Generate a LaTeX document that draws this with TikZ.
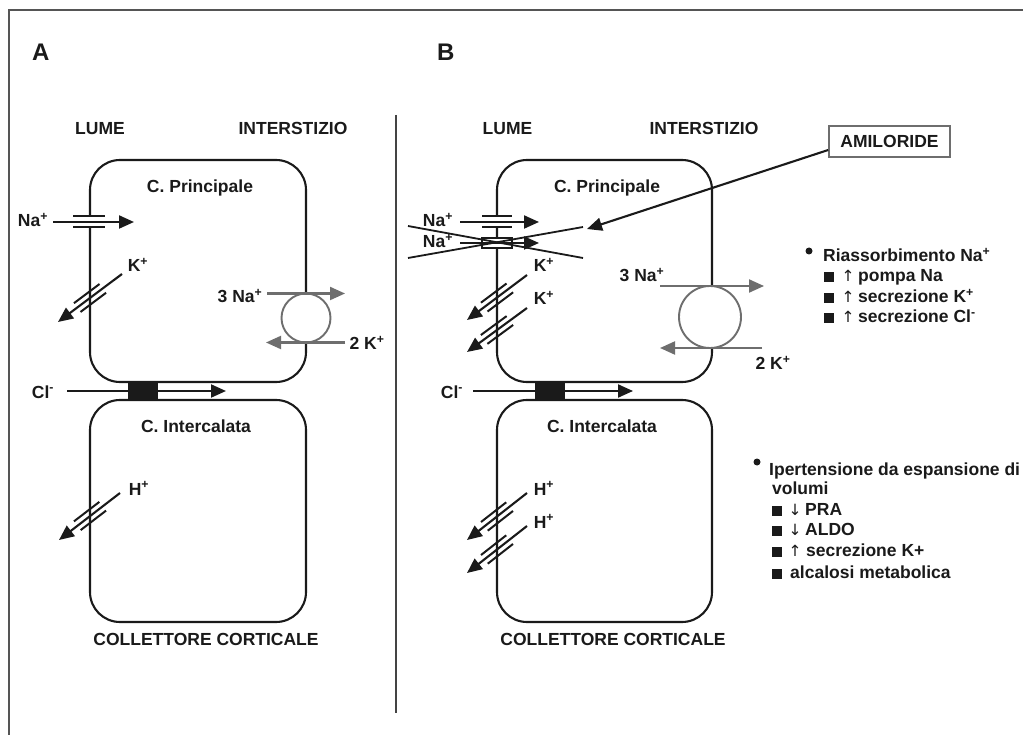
\documentclass[tikz,border=0pt]{standalone}
\usepackage{fontspec}
\setmainfont{Liberation Sans}
\newfontfamily\dv{DejaVu Sans}
\usetikzlibrary{arrows.meta}
\definecolor{ink}{HTML}{1A1A1A}
\definecolor{pumpgray}{HTML}{6E6E6E}
\definecolor{framegray}{HTML}{555555}
\tikzset{
  cell/.style={draw=ink, line width=2.1pt, rounded corners=30pt, inner sep=0pt},
  lbl/.style={font=\fontsize{17.5}{20}\selectfont\bfseries, text=ink, inner sep=0pt, anchor=base},
  lblw/.style={lbl, anchor=base west},
  big/.style={font=\fontsize{24}{28}\selectfont\bfseries, text=ink, inner sep=0pt, anchor=base west},
  arw/.style={font=\dv\fontsize{15.5}{15}\selectfont, text=ink, inner sep=0pt, anchor=base},
  ion/.style={draw=ink, line width=2.1pt, -{Triangle[length=15pt,width=13pt]}},
  pumparr/.style={draw=pumpgray, line width=2.1pt, -{Triangle[length=15pt,width=13pt]}},
  chanline/.style={draw=ink, line width=2pt},
  pumpc/.style={circle, draw=pumpgray, fill=white, line width=1.9pt, inner sep=0pt},
  sq/.style={fill=ink, minimum size=10pt, inner sep=0pt},
  dot/.style={circle, fill=ink, minimum size=7pt, inner sep=0pt},
  xline/.style={draw=ink, line width=1.8pt},
}
\newcommand\diagchan[3]{%
  \begin{scope}[shift={(#1,#2)},rotate=#3]
    \draw[chanline] (-16,-5.5)--(16,-5.5) (-16,5.5)--(16,5.5);
  \end{scope}}
\begin{document}
\begin{tikzpicture}[x=1pt,y=-1pt]
\useasboundingbox (0,0) rectangle (1023,735);
\fill[white] (0,0) rectangle (1023,735);
% frame
\draw[framegray, line width=1.6pt] (9,735) -- (9,10) -- (1023,10);
% divider
\draw[framegray!80!black, line width=2.2pt] (396,115) -- (396,713);

% titles
\node[big] (tA) at (32,61) {A};
\node[big] (tB) at (437,61) {B};
\node[lbl] (lumeA) at (100,135) {LUME};
\node[lbl] (intA) at (293,135) {INTERSTIZIO};
\node[lbl] (lumeB) at (507.5,135) {LUME};
\node[lbl] (intB) at (704,135) {INTERSTIZIO};

% cells
\node[cell, minimum width=216pt, minimum height=222pt] (cA1) at (198,271) {};
\node[cell, minimum width=216pt, minimum height=222pt] (cA2) at (198,511) {};
\node[cell, minimum width=215pt, minimum height=222pt] (cB1) at (604.5,271) {};
\node[cell, minimum width=215pt, minimum height=222pt] (cB2) at (604.5,511) {};

\node[lbl] (cpA) at (200,193) {C. Principale};
\node[lbl] (cpB) at (607,193) {C. Principale};
\node[lbl] (ciA) at (196,432) {C. Intercalata};
\node[lbl] (ciB) at (602,432) {C. Intercalata};
\node[lbl] (ccA) at (206,645) {COLLETTORE CORTICALE};
\node[lbl] (ccB) at (613,645) {COLLETTORE CORTICALE};

% ---------- Panel A ----------
% Na channel
\fill[white] (73,216.5) rectangle (105,227.5);
\draw[chanline] (73,216.5) -- (105,216.5) (73,227.5) -- (105,227.5);
\coordinate (naAs) at (53,222); \coordinate (naAe) at (134,222);
\draw[ion] (naAs) -- (naAe);
\node[lbl] (naA) at (33,227) {Na\textsuperscript{+}};
% K
\coordinate (kAs) at (122,274); \coordinate (kAe) at (58,322);
\draw[ion] (kAs) -- (kAe);
\diagchan{90}{298}{36.87}
\node[lbl] (kA) at (138,272) {K\textsuperscript{+}};
% pump
\node[pumpc, minimum size=49pt] (pumpA) at (306,318) {};
\coordinate (p3As) at (267,293.5); \coordinate (p3Ae) at (345,293.5);
\coordinate (p2As) at (345,342.5); \coordinate (p2Ae) at (266,342.5);
\draw[pumparr] (p3As) -- (p3Ae);
\draw[pumparr] (p2As) -- (p2Ae);
\node[lbl] (n3A) at (240,303) {3 Na\textsuperscript{+}};
\node[lbl] (k2A) at (367,350) {2 K\textsuperscript{+}};
% Cl
\fill[ink] (128,381) rectangle (158,401);
\coordinate (clAs) at (67,391); \coordinate (clAe) at (226,391);
\draw[ion] (clAs) -- (clAe);
\node[lbl] (clA) at (43,398) {Cl\textsuperscript{-}};
% H
\coordinate (hAs) at (120,493); \coordinate (hAe) at (59,540);
\draw[ion] (hAs) -- (hAe);
\diagchan{90}{516}{37.5}
\node[lbl] (hA) at (139,495) {H\textsuperscript{+}};

% ---------- Panel B ----------
\fill[white] (482,216.5) rectangle (512,227.5);
\draw[chanline] (482,216.5) -- (512,216.5) (482,227.5) -- (512,227.5);
\coordinate (naB1s) at (460,222); \coordinate (naB1e) at (539,222);
\draw[ion] (naB1s) -- (naB1e);
\node[lbl] (naB1) at (438,227) {Na\textsuperscript{+}};
\fill[white] (482,238) rectangle (512,248);
\draw[chanline] (482,238) rectangle (512,248);
\coordinate (naB2s) at (460,243); \coordinate (naB2e) at (539,243);
\draw[ion] (naB2s) -- (naB2e);
\node[lbl] (naB2) at (438,248) {Na\textsuperscript{+}};
% cross
\coordinate (x1s) at (408,226); \coordinate (x1e) at (583,258);
\coordinate (x2s) at (408,258); \coordinate (x2e) at (583,227);
\draw[xline] (x1s) -- (x1e);
\draw[xline] (x2s) -- (x2e);
% amiloride
\node[draw=pumpgray, line width=1.6pt, minimum width=121pt, minimum height=31pt, inner sep=0pt,
      font=\fontsize{17.5}{20}\selectfont\bfseries, text=ink] (amil) at (889.5,141.5) {AMILORIDE};
\coordinate (amilTip) at (587,229);
\draw[ion] ([yshift=-8.5pt]amil.west) -- (amilTip);
% K
\coordinate (kB1s) at (527,275); \coordinate (kB1e) at (467,320);
\coordinate (kB2s) at (527,308); \coordinate (kB2e) at (467,352);
\draw[ion] (kB1s) -- (kB1e);
\draw[ion] (kB2s) -- (kB2e);
\diagchan{497}{297.5}{36.87}
\diagchan{497}{330}{36.3}
\node[lbl] (kB1) at (544,272) {K\textsuperscript{+}};
\node[lbl] (kB2) at (544,305) {K\textsuperscript{+}};
% pump
\node[pumpc, minimum size=62pt] (pumpB) at (710,317) {};
\coordinate (p3Bs) at (660,286); \coordinate (p3Be) at (764,286);
\coordinate (p2Bs) at (762,348); \coordinate (p2Be) at (660,348);
\draw[pumparr] (p3Bs) -- (p3Be);
\draw[pumparr] (p2Bs) -- (p2Be);
\node[lbl] (n3B) at (642,282) {3 Na\textsuperscript{+}};
\node[lbl] (k2B) at (773,370) {2 K\textsuperscript{+}};
% Cl
\fill[ink] (535,381) rectangle (565,401);
\coordinate (clBs) at (473,391); \coordinate (clBe) at (633,391);
\draw[ion] (clBs) -- (clBe);
\node[lbl] (clB) at (452,398) {Cl\textsuperscript{-}};
% H
\coordinate (hB1s) at (527,493); \coordinate (hB1e) at (467,540);
\coordinate (hB2s) at (527,526); \coordinate (hB2e) at (467,573);
\draw[ion] (hB1s) -- (hB1e);
\draw[ion] (hB2s) -- (hB2e);
\diagchan{497}{516.5}{38}
\diagchan{497}{549.5}{38}
\node[lbl] (hB1) at (544,495) {H\textsuperscript{+}};
\node[lbl] (hB2) at (544,528) {H\textsuperscript{+}};

% ---------- Right text ----------
\node[dot] (b1) at (809,251) {};
\node[lblw] (r0) at (823,262) {Riassorbimento Na\textsuperscript{+}};
\node[sq] (s1) at (828.5,277.5) {};
\node[arw] (a1) at (848,282) {↑};
\node[lblw] (r1) at (858,282) {pompa Na};
\node[sq] (s2) at (828.5,298) {};
\node[arw] (a2) at (848,302.5) {↑};
\node[lblw] (r2) at (858,302.5) {secrezione K\textsuperscript{+}};
\node[sq] (s3) at (828.5,318.5) {};
\node[arw] (a3) at (848,323) {↑};
\node[lblw] (r3) at (858,323) {secrezione Cl\textsuperscript{-}};

\node[dot] (b2) at (757,462) {};
\node[lblw] (t0) at (769,475) {Ipertensione da espansione di};
\node[lblw] (t0b) at (772,494) {volumi};
\node[sq] (q1) at (776.5,510.5) {};
\node[arw] (d1) at (795,515) {↓};
\node[lblw] (t1) at (805,515) {PRA};
\node[sq] (q2) at (776.5,530.5) {};
\node[arw] (d2) at (795,535) {↓};
\node[lblw] (t2) at (805,535) {ALDO};
\node[sq] (q3) at (776.5,551.5) {};
\node[arw] (d3) at (795,556) {↑};
\node[lblw] (t3) at (806,556) {secrezione K+};
\node[sq] (q4) at (776.5,573.5) {};
\node[lblw] (t4) at (790,578) {alcalosi metabolica};
\end{tikzpicture}
\end{document}
